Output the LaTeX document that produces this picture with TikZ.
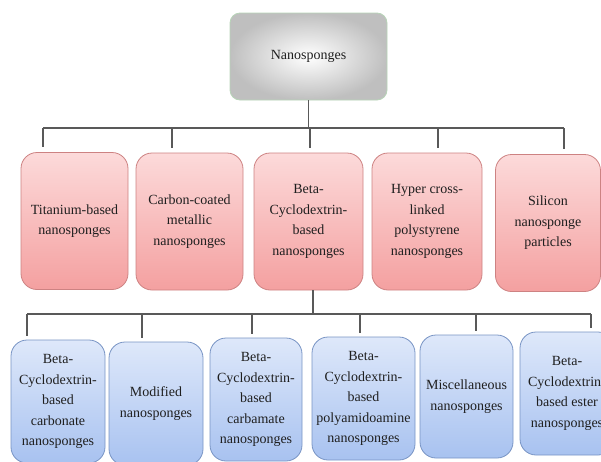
\documentclass[tikz,border=0pt]{standalone}
\usepackage{fontspec}
\setmainfont{Liberation Serif}

\definecolor{pinktop}{RGB}{252,218,218}
\definecolor{pinkbot}{RGB}{244,160,160}
\definecolor{pinkline}{RGB}{205,130,130}
\definecolor{bluetop}{RGB}{222,232,250}
\definecolor{bluebot}{RGB}{168,194,240}
\definecolor{blueline}{RGB}{120,148,196}

\begin{document}
\begin{tikzpicture}[x=1pt,y=-1pt,
  every node/.style={font=\fontsize{14}{20.5}\selectfont, text=black!88, align=center},
  rootbox/.style={draw=green!25!gray!45, line width=0.8pt, rounded corners=10pt,
    minimum width=157pt, minimum height=87pt, inner color=white, outer color=gray!50},
  typebox/.style={draw=pinkline, line width=0.8pt, rounded corners=16pt,
    minimum width=107pt, minimum height=137pt, top color=pinktop, bottom color=pinkbot},
  subbox/.style={draw=blueline, line width=0.8pt, rounded corners=16pt,
    minimum width=94pt, minimum height=123pt, top color=bluetop, bottom color=bluebot},
  link/.style={draw=black!65, line width=1.3pt}]
  \useasboundingbox (0,0) rectangle (601,461);
  \clip (0,0) rectangle (601,461);

  % Root box
  \node[rootbox] (root) at (308.5,56.5) {Nanosponges};

  % First level (pink)
  \node[typebox] (t1) at (74.5,221) {Titanium-based\\nanosponges};
  \node[typebox] (t2) at (189.5,221.5) {Carbon-coated\\metallic\\nanosponges};
  \node[typebox, minimum width=109pt] (t3) at (308.5,221.5) {Beta-\\Cyclodextrin-\\based\\nanosponges};
  \node[typebox, minimum width=110pt] (t4) at (427,221.5) {Hyper cross-\\linked\\polystyrene\\nanosponges};
  \node[typebox, minimum width=105pt] (t5) at (548,223) {Silicon\\nanosponge\\particles};

  % Second level (blue)
  \node[subbox] (s1) at (58,401.5) {Beta-\\Cyclodextrin-\\based\\carbonate\\nanosponges};
  \node[subbox] (s2) at (156,403.5) {Modified\\nanosponges};
  \node[subbox, minimum width=92pt] (s3) at (256,399.5) {Beta-\\Cyclodextrin-\\based\\carbamate\\nanosponges};
  \node[subbox, minimum width=103pt] (s4) at (363.5,398.5) {Beta-\\Cyclodextrin-\\based\\polyamidoamine\\nanosponges};
  \node[subbox, minimum width=93pt] (s5) at (466.5,396.5) {Miscellaneous\\nanosponges};
  \node[subbox] (s6) at (567,393.5) {Beta-\\Cyclodextrin-\\based ester\\nanosponges};

  % Bar under the root
  \coordinate (top0) at (308.5,128);
  \coordinate (top1) at (43,128);
  \coordinate (top2) at (172,128);
  \coordinate (top3) at (310,128);
  \coordinate (top4) at (438,128);
  \coordinate (top5) at (564,128);
  \draw[link] (root.south) -- (top0);
  \draw[link] (top1) -- (top5);
  \draw[link, shorten >=5pt] (top1) -- (top1 |- t1.north);
  \draw[link, shorten >=5pt] (top2) -- (top2 |- t2.north);
  \draw[link, shorten >=5pt] (top3) -- (top3 |- t3.north);
  \draw[link, shorten >=5pt] (top4) -- (top4 |- t4.north);
  \draw[link, shorten >=5pt] (top5) -- (top5 |- t5.north);

  % Bar under the Beta-Cyclodextrin box
  \coordinate (low0) at (313,314);
  \coordinate (low1) at (27,314);
  \coordinate (low2) at (142,314);
  \coordinate (low3) at (252,314);
  \coordinate (low4) at (360,314);
  \coordinate (low5) at (476,314);
  \coordinate (low6) at (591,314);
  \draw[link] (t3.south -| low0) -- (low0);
  \draw[link] (low1) -- (low6);
  \draw[link, shorten >=4pt] (low1) -- (low1 |- s1.north);
  \draw[link, shorten >=4pt] (low2) -- (low2 |- s2.north);
  \draw[link, shorten >=4pt] (low3) -- (low3 |- s3.north);
  \draw[link, shorten >=4pt] (low4) -- (low4 |- s4.north);
  \draw[link, shorten >=4pt] (low5) -- (low5 |- s5.north);
  \draw[link, shorten >=4pt] (low6) -- (low6 |- s6.north);
\end{tikzpicture}
\end{document}
